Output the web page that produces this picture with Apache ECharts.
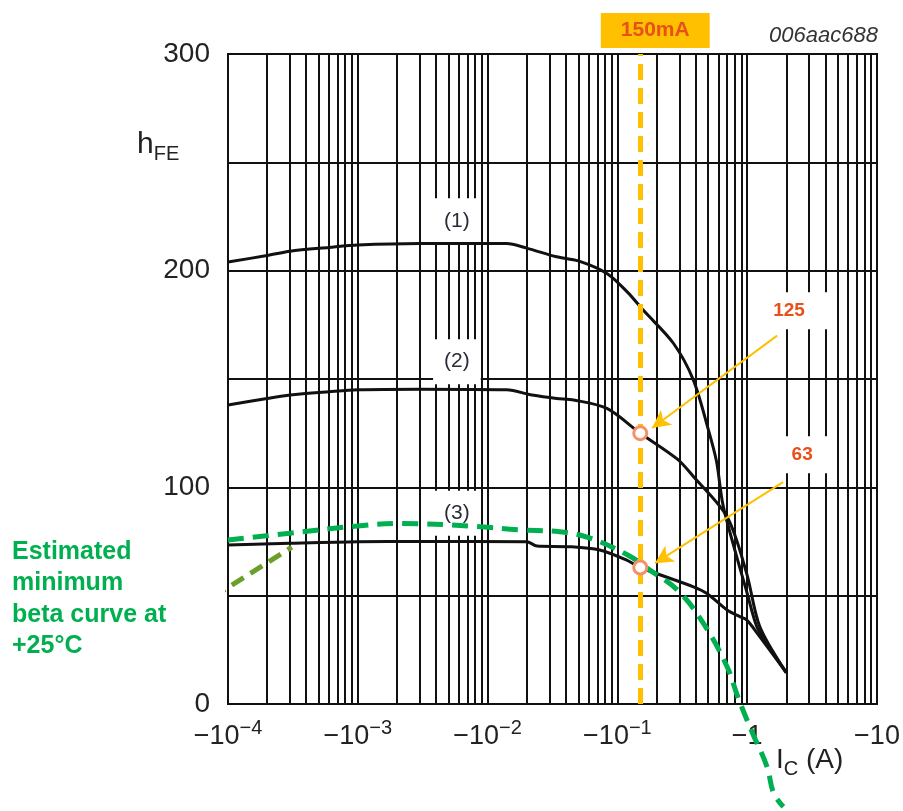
<!DOCTYPE html>
<html lang="en">
    <head>
        <meta charset="utf-8">
        <title>hFE vs IC</title>
        <style>
            html, body { margin: 0; padding: 0; background: #fff; }
        </style>
    </head>
    <body>
        <div id="main" style="width: 903px;height:811px;"></div>
        <script src="https://cdn.jsdelivr.net/npm/echarts@6/dist/echarts.min.js"></script>
        <script type="text/javascript">
            var myChart = echarts.init(document.getElementById('main'));
            var FONT = '"Liberation Sans", Arial, sans-serif';

            // curve (1)
            var ic1 = [1e-4, 2e-4, 3e-4, 6e-4, 1e-3, 3e-3, 1.4e-2, 2e-2, 3.4e-2, 5e-2, 8.3e-2, 0.12, 0.158, 0.27, 0.385, 0.5, 0.58, 0.65, 0.83, 0.99, 1.18, 1.41, 2.0];
            var hfe1 = [204, 207, 209, 210.7, 211.8, 212.5, 212.5, 210.4, 206.4, 204.5, 198.7, 190, 181.8, 166.5, 149.5, 127, 112, 92, 68, 52, 36, 28, 14.5];
            // curve (2)
            var ic2 = [1e-4, 2e-4, 3e-4, 6e-4, 1e-3, 3e-3, 1.4e-2, 2.2e-2, 3.4e-2, 4.6e-2, 8.3e-2, 0.15, 0.29, 0.385, 0.7, 0.99, 1.25, 2.0];
            var hfe2 = [138, 141, 142.6, 144.1, 145, 145.3, 145, 142.6, 141, 140.3, 136.4, 125, 113, 105, 86.4, 60.3, 35.7, 14.5];
            // curve (3)
            var ic3 = [1e-4, 3e-4, 1e-3, 3e-3, 2e-2, 2.4e-2, 4.3e-2, 7.3e-2, 0.117, 0.15, 0.385, 0.49, 0.7, 0.88, 0.99, 1.2, 2.0];
            var hfe3 = [73.4, 74.2, 74.9, 75, 74.9, 72.9, 72.6, 71.1, 66.5, 63, 54.1, 51, 43.4, 40.3, 38.8, 32.5, 14.5];
            // estimated minimum beta curve (green)
            var icMin = [1e-4, 3e-4, 1e-3, 2.2e-3, 7.3e-3, 1.8e-2, 3.6e-2, 6e-2, 0.12, 0.17, 0.29, 0.46, 0.7, 0.85, 1.1, 1.42, 1.6, 1.9];
            var hfeMin = [75.7, 78.8, 82.2, 83.3, 82.1, 80.3, 79.5, 76.8, 68.8, 62.6, 52.6, 37.2, 17.2, 3, -13.5, -28.9, -41.2, -47.4];
            // pointer from the green note to the curve
            var pointerIc = [7.7e-5, 3.1e-4];
            var pointerHfe = [49.4, 72.4];

            var curveNames = ['(1)', '(2)', '(3)'];
            var curveLabelIc = [5.8e-3, 5.8e-3, 5.8e-3];
            var curveLabelHfe = [223, 158, 88];

            var markIc = 0.15;
            var markText = '150mA';
            var readHfe = [125, 63];
            var readText = ['125', '63'];
            var readLabelIc = [2.1, 2.65];
            var readLabelHfe = [181.5, 115];
            var arrowFromIc = [1.7, 1.89];
            var arrowFromHfe = [170, 102.4];
            var arrowToIc = [0.185, 0.195];
            var arrowToHfe = [127.4, 65];

            function pairs(xs, ys) {
                var res = [];
                for (var i = 0; i < xs.length; i++) {
                    res.push([xs[i], ys[i]]);
                }
                return res;
            }

            var curveStyle = { color: '#111', width: 3 };

            var arrowData = [];
            for (var i = 0; i < readHfe.length; i++) {
                arrowData.push([
                    { coord: [arrowFromIc[i], arrowFromHfe[i]], symbol: 'none' },
                    { coord: [arrowToIc[i], arrowToHfe[i]], symbol: 'arrow' }
                ]);
            }

            myChart.setOption({
                animation: false,
                backgroundColor: '#fff',
                grid: {
                    left: 228,
                    right: 26,
                    top: 54,
                    bottom: 107,
                    show: true,
                    borderColor: '#111',
                    borderWidth: 2
                },
                xAxis: {
                    type: 'log',
                    logBase: 10,
                    min: 1e-4,
                    max: 10,
                    axisLine: { show: true, lineStyle: { color: '#111', width: 2 } },
                    axisTick: { show: false },
                    splitLine: { show: true, lineStyle: { color: '#111', width: 2 } },
                    minorTick: { show: false, splitNumber: 9 },
                    minorSplitLine: { show: true, lineStyle: { color: '#111', width: 2 } },
                    axisLabel: {
                        margin: 14,
                        formatter: function(v) {
                            var e = Math.round(Math.log10(v));
                            if (e === 0) return '{b|−1}';
                            if (e === 1) return '{b|−10}';
                            return '{b|−10}{s|' + (e < 0 ? '−' : '') + Math.abs(e) + '}';
                        },
                        rich: {
                            b: { fontSize: 27, color: '#222', fontFamily: FONT, lineHeight: 32, verticalAlign: 'bottom' },
                            s: { fontSize: 20, color: '#222', fontFamily: FONT, verticalAlign: 'top' }
                        }
                    }
                },
                yAxis: {
                    type: 'value',
                    min: 0,
                    max: 300,
                    interval: 50,
                    axisLine: { show: true, lineStyle: { color: '#111', width: 2 } },
                    axisTick: { show: false },
                    splitLine: { show: true, lineStyle: { color: '#111', width: 2 } },
                    axisLabel: {
                        margin: 18,
                        fontSize: 28,
                        color: '#222',
                        fontFamily: FONT,
                        formatter: function(v) {
                            return v % 100 === 0 ? String(v) : '';
                        }
                    }
                },
                graphic: [{
                        type: 'text',
                        left: 137,
                        top: 130,
                        style: {
                            text: '{h|h}{s|FE}',
                            rich: {
                                h: { fontSize: 30, fill: '#222', fontFamily: FONT, lineHeight: 30, verticalAlign: 'bottom' },
                                s: { fontSize: 20, fill: '#222', fontFamily: FONT, verticalAlign: 'bottom', padding: [0, 0, -4, 0] }
                            }
                        }
                    }, {
                        type: 'text',
                        left: 776,
                        top: 746,
                        style: {
                            text: '{h|I}{s|C}{h| (A)}',
                            rich: {
                                h: { fontSize: 28, fill: '#222', fontFamily: FONT, lineHeight: 30, verticalAlign: 'bottom' },
                                s: { fontSize: 20, fill: '#222', fontFamily: FONT, verticalAlign: 'bottom', padding: [0, 0, -5, 0] }
                            }
                        }
                    }, {
                        type: 'text',
                        right: 25,
                        top: 25,
                        style: {
                            text: '006aac688',
                            font: 'italic 22px ' + FONT,
                            fill: '#333'
                        }
                    }, {
                        type: 'text',
                        left: 12,
                        top: 536,
                        style: {
                            text: 'Estimated\nminimum\nbeta curve at\n+25°C',
                            font: 'bold 25px ' + FONT,
                            lineHeight: 31.5,
                            fill: '#00B050'
                        }
                    }],
                series: [{
                        name: 'curve1',
                        type: 'line',
                        data: pairs(ic1, hfe1),
                        showSymbol: false,
                        smooth: 0.3,
                        lineStyle: curveStyle,
                        z: 3,
                        markLine: {
                            silent: true,
                            symbol: 'none',
                            data: [{ xAxis: markIc }],
                            lineStyle: { color: '#FFC000', width: 5, type: [16, 8] },
                            label: {
                                show: true,
                                position: 'end',
                                formatter: markText,
                                distance: 6,
                                offset: [15, 0],
                                backgroundColor: '#FFC000',
                                color: '#E8501A',
                                fontWeight: 'bold',
                                fontSize: 21,
                                fontFamily: FONT,
                                padding: [7, 20]
                            }
                        }
                    }, {
                        name: 'curve2',
                        type: 'line',
                        data: pairs(ic2, hfe2),
                        showSymbol: false,
                        smooth: 0.3,
                        lineStyle: curveStyle,
                        z: 3
                    }, {
                        name: 'curve3',
                        type: 'line',
                        data: pairs(ic3, hfe3),
                        showSymbol: false,
                        smooth: 0.3,
                        lineStyle: curveStyle,
                        z: 3
                    }, {
                        name: 'minimum',
                        type: 'line',
                        data: pairs(icMin, hfeMin),
                        showSymbol: false,
                        smooth: 0.4,
                        clip: false,
                        lineStyle: { color: '#00B050', width: 5, type: [16, 9] },
                        z: 5
                    }, {
                        name: 'pointer',
                        type: 'line',
                        data: pairs(pointerIc, pointerHfe),
                        showSymbol: false,
                        clip: false,
                        lineStyle: { color: '#6AA02A', width: 5, type: [14, 8] },
                        z: 5
                    }, {
                        name: 'curveLabels',
                        type: 'scatter',
                        data: pairs(curveLabelIc, curveLabelHfe),
                        symbolSize: 0,
                        z: 2,
                        itemStyle: { opacity: 1 },
                        label: {
                            show: true,
                            position: 'inside',
                            formatter: function(p) { return curveNames[p.dataIndex]; },
                            backgroundColor: '#fff',
                            padding: [12, 11],
                            fontSize: 21,
                            color: '#2b2b38',
                            fontFamily: FONT
                        }
                    }, {
                        name: 'readLabels',
                        type: 'scatter',
                        data: pairs(readLabelIc, readLabelHfe),
                        symbolSize: 0,
                        z: 2,
                        itemStyle: { opacity: 1 },
                        label: {
                            show: true,
                            position: 'inside',
                            formatter: function(p) { return readText[p.dataIndex]; },
                            backgroundColor: '#fff',
                            padding: [9, 24],
                            fontSize: 19,
                            fontWeight: 'bold',
                            color: '#E8501A',
                            fontFamily: FONT
                        },
                        markLine: {
                            silent: true,
                            symbolSize: [14, 18],
                            data: arrowData,
                            lineStyle: { color: '#FFC000', width: 2, type: 'solid', opacity: 1 },
                            label: { show: false }
                        }
                    }, {
                        name: 'readPoints',
                        type: 'scatter',
                        data: pairs([markIc, markIc], readHfe),
                        symbol: 'circle',
                        symbolSize: 13,
                        z: 10,
                        itemStyle: { color: '#fff', borderColor: '#F4916B', borderWidth: 3, opacity: 1 }
                    }]
            });
        </script>
    </body>
</html>
